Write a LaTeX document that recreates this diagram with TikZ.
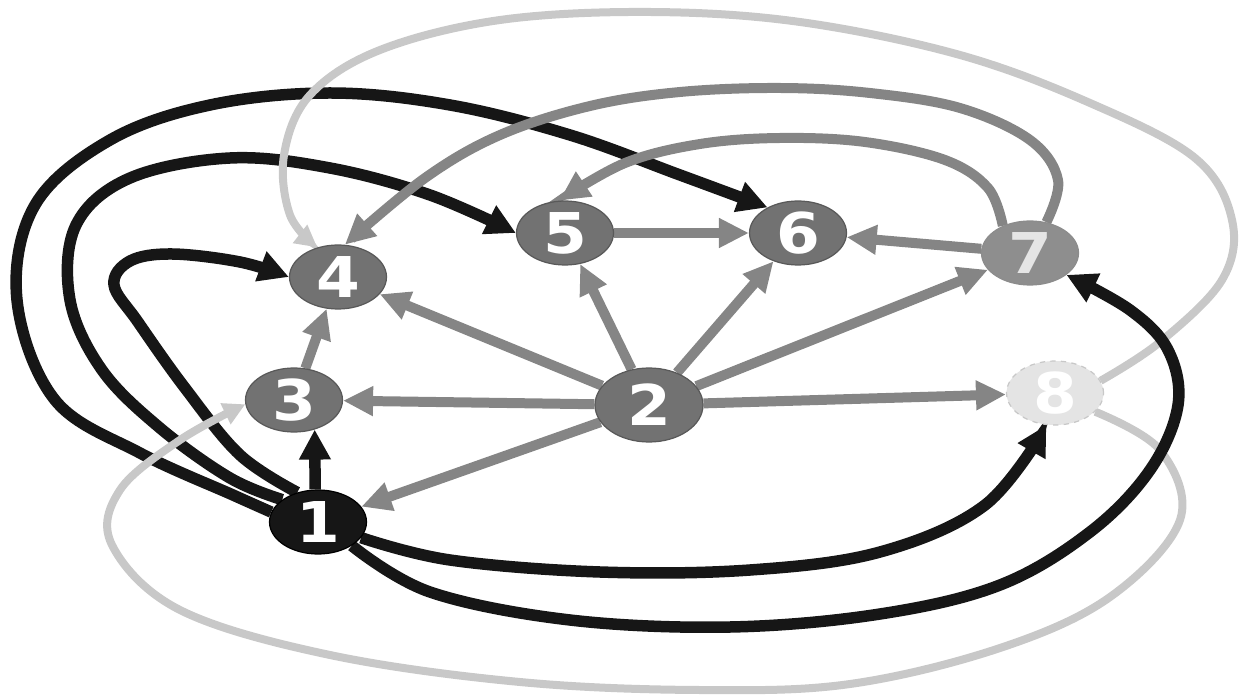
\documentclass[tikz,border=0pt]{standalone}
\usepackage{fontspec}
\usepackage{graphicx}
\newfontfamily\numfont{DejaVu Sans}
\usetikzlibrary{arrows.meta,shapes.geometric,backgrounds}

\definecolor{ink}{HTML}{161616}
\definecolor{edgegray}{HTML}{858585}
\definecolor{vgray}{HTML}{727272}
\definecolor{vlight}{HTML}{8E8E8E}
\definecolor{pale}{HTML}{C8C8C8}
\definecolor{paler}{HTML}{E4E4E4}

\newcommand{\numlabel}[1]{\scalebox{1.12}[1]{#1}}

\tikzset{
  vtx/.style={ellipse, minimum width=1.94cm, minimum height=1.28cm, inner sep=0pt,
    fill=vgray, draw=black!65, line width=0.7pt, text=white,
    font=\numfont\bfseries\fontsize{32}{32}\selectfont},
  hub/.style={vtx, minimum width=2.16cm, minimum height=1.48cm},
  darkvtx/.style={vtx, fill=ink, draw=black},
  softvtx/.style={vtx, fill=vlight, draw=black!45, text=black!10},
  ghostvtx/.style={vtx, fill=paler, draw=pale, dashed, text=white},
  inkedge/.style={draw=ink, line width=0.23cm,
    -{Triangle[length=0.6cm,width=0.6cm]}},
  grayedge/.style={draw=edgegray, line width=0.2cm,
    -{Triangle[length=0.6cm,width=0.56cm]}},
  paleedge/.style={draw=pale, line width=0.16cm,
    -{Triangle[length=0.44cm,width=0.44cm]}},
}

\begin{document}
\begin{tikzpicture}[x=0.02cm, y=-0.02cm]
\useasboundingbox (0,0) rectangle (1239,695);

% vertices
\node[darkvtx]  (n1) at (318,522) {\numlabel{1}};
\node[hub]      (n2) at (649,405) {\numlabel{2}};
\node[vtx]      (n3) at (294,400) {\numlabel{3}};
\node[vtx]      (n4) at (338,277) {\numlabel{4}};
\node[vtx]      (n5) at (565,233) {\numlabel{5}};
\node[vtx]      (n6) at (798,233) {\numlabel{6}};
\node[softvtx]  (n7) at (1030,253) {\numlabel{7}};
\node[ghostvtx] (n8) at (1055,393) {\numlabel{8}};

\begin{scope}[on background layer]
% long black arcs from 1 sweeping round the left side
\draw[inkedge] plot[smooth, tension=0.6] coordinates {(n1.125) (240,455) (185,388) (138,322) (114,285) (130,261) (172,254) (240,262) (n4.180)};
\draw[inkedge] plot[smooth, tension=0.6] coordinates {(n1.148) (230,478) (160,428) (102,370) (70,300) (76,225) (130,178) (230,158) (330,168) (430,195) (n5.180)};
\draw[inkedge] plot[smooth, tension=0.6] coordinates {(n1.168) (233,495) (140,453) (55,400) (17,300) (35,205) (110,140) (210,105) (330,93) (450,105) (570,135) (680,175) (n6.140)};

% pale loops from 8
\draw[paleedge] plot[smooth, tension=0.6] coordinates {(n8.15) (1160,342) (1222,280) (1232,220) (1195,158) (1090,103) (960,55) (800,22) (650,12) (500,20) (380,50) (310,95) (284,155) (290,215) (n4.125)};
\draw[paleedge] plot[smooth, tension=0.6] coordinates {(n8.-25) (1160,450) (1180,520) (1110,597) (1000,648) (850,684) (700,690) (520,682) (330,655) (180,610) (112,545) (120,490) (180,440) (n3.185)};

% grey arcs from 7
\draw[grayedge] plot[smooth, tension=0.6] coordinates {(n7.62) (1058,180) (1030,140) (960,108) (870,93) (780,88) (680,92) (590,106) (500,135) (425,178) (n4.78)};
\draw[grayedge] plot[smooth, tension=0.6] coordinates {(n7.135) (988,188) (945,160) (865,142) (780,138) (700,144) (625,163) (n5.100)};

% black arcs from 1 along the bottom
\draw[inkedge] plot[smooth, tension=0.6] coordinates {(n1.-35) (430,592) (570,620) (730,627) (880,614) (1000,585) (1090,532) (1150,470) (1178,405) (1168,350) (1130,310) (n7.-31)};
\draw[inkedge] plot[smooth, tension=0.6] coordinates {(n1.-20) (450,560) (600,572) (750,570) (880,552) (985,505) (n8.-105)};
\draw[inkedge] (n1.95) -- (n3.-55);

% straight grey edges
\draw[grayedge] (n2) -- (n3);
\draw[grayedge] (n2) -- (n4);
\draw[grayedge] (n2) -- (n5);
\draw[grayedge] (n2) -- (n6);
\draw[grayedge] (n2) -- (n7);
\draw[grayedge] (n2) -- (n8);
\draw[grayedge] (n2) -- (n1);
\draw[grayedge] (n5) -- (n6);
\draw[grayedge] (n7) -- (n6);
\draw[grayedge] (n3) -- (n4);
\end{scope}
\end{tikzpicture}
\end{document}
